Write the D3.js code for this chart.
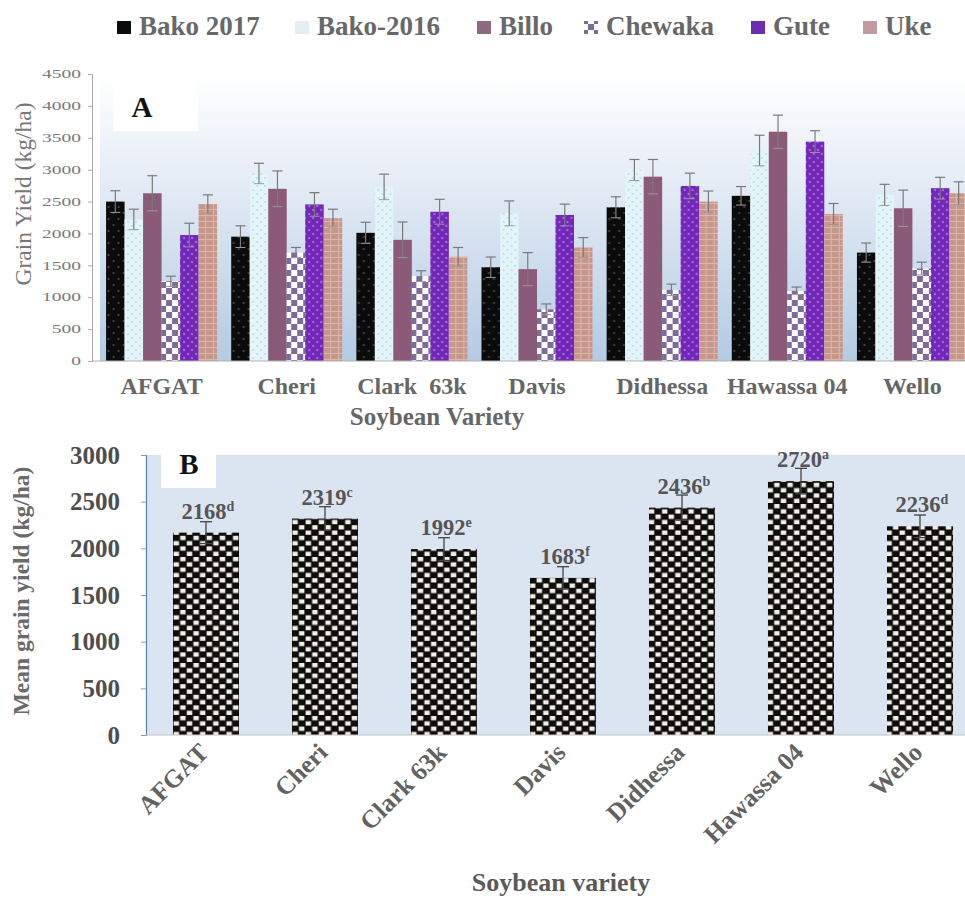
<!DOCTYPE html>
<html>
<head>
<meta charset="utf-8">
<script src="https://cdn.jsdelivr.net/npm/d3@7"></script>
<style>
  html, body { margin: 0; padding: 0; background: #ffffff; }
  svg { display: block; }
  text { font-family: "Liberation Serif", "Times New Roman", serif; }
</style>
</head>
<body>
<svg id="chart" width="965" height="903"></svg>
<script>
// ---- Panel A: grain yield per variety and location ----
const categories = ["AFGAT", "Cheri", "Clark  63k", "Davis", "Didhessa", "Hawassa 04", "Wello"];
const locations = ["Bako 2017", "Bako-2016", "Billo", "Chewaka", "Gute", "Uke"];

const bako2017 = [2500, 1950, 2010, 1470, 2410, 2590, 1700];
const bako2016 = [2220, 2940, 2730, 2315, 2995, 3300, 2605];
const billo    = [2630, 2700, 1900, 1440, 2890, 3595, 2395];
const chewaka  = [1250, 1700, 1330, 810, 1115, 1100, 1450];
const gute     = [1975, 2455, 2340, 2290, 2745, 3440, 2710];
const uke      = [2460, 2240, 1635, 1780, 2500, 2305, 2630];

const bako2017Err = [170, 170, 165, 160, 165, 145, 150];
const bako2016Err = [160, 160, 200, 195, 165, 240, 165];
const billoErr    = [275, 280, 280, 260, 270, 260, 285];
const chewakaErr  = [80, 80, 85, 85, 90, 60, 100];
const guteErr     = [185, 185, 195, 170, 200, 170, 170];
const ukeErr      = [145, 140, 145, 155, 165, 165, 180];

const yTicksA = [0, 500, 1000, 1500, 2000, 2500, 3000, 3500, 4000, 4500];

// ---- Panel B: mean grain yield per variety ----
const varieties = ["AFGAT", "Cheri", "Clark 63k", "Davis", "Didhessa", "Hawassa 04", "Wello"];
const meanYield = [2168, 2319, 1992, 1683, 2436, 2720, 2236];
const meanErr = [117, 127, 122, 120, 135, 137, 121];
const meanLetters = ["d", "c", "e", "f", "b", "a", "d"];
const yTicksB = [0, 500, 1000, 1500, 2000, 2500, 3000];

const seriesValues = [bako2017, bako2016, billo, chewaka, gute, uke];
const seriesErrors = [bako2017Err, bako2016Err, billoErr, chewakaErr, guteErr, ukeErr];

const svg = d3.select("#chart");
const defs = svg.append("defs");

// ---------- fill patterns ----------
function dotPattern(id, bg, dot, w, h, r) {
  const p = defs.append("pattern").attr("id", id).attr("patternUnits", "userSpaceOnUse")
    .attr("width", w).attr("height", h);
  p.append("rect").attr("width", w).attr("height", h).attr("fill", bg);
  p.append("circle").attr("cx", w * 0.25).attr("cy", h * 0.25).attr("r", r).attr("fill", dot);
  p.append("circle").attr("cx", w * 0.75).attr("cy", h * 0.75).attr("r", r).attr("fill", dot);
}
dotPattern("pBako17", "#0b0b0b", "#4a4a4a", 10, 12, 1.1);
dotPattern("pBako16", "#e4f5f9", "#b9dbe6", 8, 8, 1.1);
dotPattern("pGute", "#7327b8", "#a06ad8", 8, 8, 1.2);

(function () {
  const p = defs.append("pattern").attr("id", "pChewaka").attr("patternUnits", "userSpaceOnUse")
    .attr("width", 12).attr("height", 12);
  p.append("rect").attr("width", 12).attr("height", 12).attr("fill", "#ffffff");
  p.append("rect").attr("x", 0).attr("y", 0).attr("width", 6).attr("height", 6).attr("fill", "#7d6b9a");
  p.append("rect").attr("x", 6).attr("y", 6).attr("width", 6).attr("height", 6).attr("fill", "#7d6b9a");
})();

(function () {
  const p = defs.append("pattern").attr("id", "pUke").attr("patternUnits", "userSpaceOnUse")
    .attr("width", 8).attr("height", 6);
  p.append("rect").attr("width", 8).attr("height", 6).attr("fill", "#c8978c");
  p.append("rect").attr("x", 0).attr("y", 5).attr("width", 8).attr("height", 1).attr("fill", "#dcb6aa");
  p.append("rect").attr("x", 3).attr("y", 0).attr("width", 1).attr("height", 5).attr("fill", "#dcb6aa");
})();

(function () {
  const w = 13.2, h = 10.6;
  const p = defs.append("pattern").attr("id", "pChecker").attr("patternUnits", "userSpaceOnUse")
    .attr("width", w).attr("height", h).attr("x", 173);
  p.append("rect").attr("width", w).attr("height", h).attr("fill", "#0d0d0d");
  p.append("rect").attr("x", 0.6).attr("y", 0.5).attr("width", w / 2 - 1.2).attr("height", h / 2 - 1).attr("fill", "#f3efe4");
  p.append("rect").attr("x", w / 2 + 0.6).attr("y", h / 2 + 0.5).attr("width", w / 2 - 1.2).attr("height", h / 2 - 1).attr("fill", "#f3efe4");
})();

const seriesFill = ["url(#pBako17)", "url(#pBako16)", "#8b5a79", "url(#pChewaka)", "url(#pGute)", "url(#pUke)"];
const legendFill = ["#0b0b0b", "#e2eef2", "#8b6a82", "url(#pChewaka)", "#6a2db0", "#c49aa2"];

const grad = defs.append("linearGradient").attr("id", "gA")
  .attr("x1", 0).attr("y1", 0).attr("x2", 0).attr("y2", 1);
grad.append("stop").attr("offset", "0%").attr("stop-color", "#ffffff");
grad.append("stop").attr("offset", "35%").attr("stop-color", "#e6edf6");
grad.append("stop").attr("offset", "100%").attr("stop-color", "#b3cbe4");

// ---------- legend ----------
const legendX = [117, 295, 477, 584, 751, 863];
const legend = svg.append("g");
locations.forEach((name, i) => {
  legend.append("rect").attr("x", legendX[i]).attr("y", 21).attr("width", 14).attr("height", 13)
    .attr("fill", legendFill[i]);
  legend.append("text").attr("x", legendX[i] + 22).attr("y", 35)
    .attr("font-size", 27).attr("font-weight", "bold").attr("fill", "#686868")
    .text(name);
});

// ================= PANEL A =================
const yA = d3.scaleLinear().domain([0, 4500]).range([361, 74]);
const x0A = d3.scaleBand().domain(categories).range([99, 975]).paddingInner(0.113).paddingOuter(0.0565);
const x1A = d3.scaleBand().domain(locations).range([0, x0A.bandwidth()]);

const gA = svg.append("g");
gA.append("rect").attr("x", 100).attr("y", 75).attr("width", 865).attr("height", 286)
  .attr("fill", "url(#gA)");

const groupsA = gA.selectAll("g.grp").data(categories).join("g")
  .attr("transform", d => `translate(${x0A(d)},0)`);

groupsA.each(function (cat, ci) {
  const g = d3.select(this);
  locations.forEach((loc, si) => {
    const v = seriesValues[si][ci];
    const e = seriesErrors[si][ci];
    const x = x1A(loc);
    const w = x1A.bandwidth();
    g.append("rect").attr("x", x).attr("y", yA(v)).attr("width", w).attr("height", yA(0) - yA(v))
      .attr("fill", seriesFill[si]);
    const cx = x + w / 2;
    g.append("line").attr("x1", cx).attr("x2", cx).attr("y1", yA(v - e)).attr("y2", yA(v + e))
      .attr("stroke", "#7a7a7a").attr("stroke-width", 1.2);
    g.append("line").attr("x1", cx - 5).attr("x2", cx + 5).attr("y1", yA(v + e)).attr("y2", yA(v + e))
      .attr("stroke", "#7a7a7a").attr("stroke-width", 1.2);
    g.append("line").attr("x1", cx - 5).attr("x2", cx + 5).attr("y1", yA(v - e)).attr("y2", yA(v - e))
      .attr("stroke", "#9a9a9a").attr("stroke-width", 1);
  });
});

// axes A
const axisA = gA.append("g").attr("transform", "translate(92,0)")
  .call(d3.axisLeft(yA).tickValues(yTicksA).tickSize(4).tickPadding(7).tickFormat(d3.format("d")));
axisA.select(".domain").attr("stroke", "#a8a8a8");
axisA.selectAll(".tick line").attr("stroke", "#a8a8a8");
axisA.selectAll(".tick text")
  .attr("font-size", 19.5)
  .attr("fill", "#7a7a7a").attr("transform", "scale(1,0.6)");

gA.append("line").attr("x1", 92).attr("x2", 965).attr("y1", yA(0)).attr("y2", yA(0))
  .attr("stroke", "#b0b0b0").attr("stroke-width", 1);

gA.selectAll("text.xlab").data(categories).join("text")
  .attr("x", d => x0A(d) + x0A.bandwidth() / 2).attr("y", 394)
  .attr("text-anchor", "middle").attr("font-size", 24).attr("font-weight", "bold")
  .attr("fill", "#666666").style("white-space", "pre")
  .text(d => d);

gA.append("text").attr("x", 437).attr("y", 425).attr("text-anchor", "middle")
  .attr("font-size", 25).attr("font-weight", "bold").attr("fill", "#666666")
  .text("Soybean Variety");

gA.append("text").attr("transform", "translate(31,194) rotate(-90)").attr("text-anchor", "middle")
  .attr("font-size", 23.5).attr("fill", "#777777")
  .text("Grain Yield (kg/ha)");

gA.append("rect").attr("x", 113).attr("y", 80).attr("width", 85).attr("height", 51).attr("fill", "#ffffff");
gA.append("text").attr("x", 142).attr("y", 117).attr("text-anchor", "middle")
  .attr("font-size", 29).attr("font-weight", "bold").attr("fill", "#111111").text("A");

// ================= PANEL B =================
const yB = d3.scaleLinear().domain([0, 3000]).range([735, 455]);
const xB = d3.scaleBand().domain(varieties).range([146.5, 979.5]).paddingInner(0.445).paddingOuter(0.2225);

const gB = svg.append("g");
gB.append("rect").attr("x", 147).attr("y", 455).attr("width", 818).attr("height", 280)
  .attr("fill", "#dbe4f1");

gB.selectAll("rect.bar").data(varieties).join("rect").attr("class", "bar")
  .attr("x", d => xB(d)).attr("width", xB.bandwidth())
  .attr("y", (d, i) => yB(meanYield[i])).attr("height", (d, i) => yB(0) - yB(meanYield[i]))
  .attr("fill", "url(#pChecker)");

varieties.forEach((v, i) => {
  const cx = xB(v) + xB.bandwidth() / 2;
  const top = meanYield[i] + meanErr[i], bot = meanYield[i] - meanErr[i];
  gB.append("line").attr("x1", cx).attr("x2", cx).attr("y1", yB(bot)).attr("y2", yB(top))
    .attr("stroke", "#444444").attr("stroke-width", 1.3);
  gB.append("line").attr("x1", cx - 6).attr("x2", cx + 6).attr("y1", yB(top)).attr("y2", yB(top))
    .attr("stroke", "#444444").attr("stroke-width", 1.3);
  gB.append("line").attr("x1", cx - 6).attr("x2", cx + 6).attr("y1", yB(bot)).attr("y2", yB(bot))
    .attr("stroke", "#444444").attr("stroke-width", 1.3);
  const t = gB.append("text").attr("x", cx + 2).attr("y", yB(meanYield[i]) - 14)
    .attr("text-anchor", "middle").attr("font-size", 22.5).attr("font-weight", "bold").attr("fill", "#555555");
  t.append("tspan").text(meanYield[i]);
  t.append("tspan").attr("dy", -8).attr("font-size", 14).text(meanLetters[i]);
});

const axisB = gB.append("g").attr("transform", "translate(146,0)")
  .call(d3.axisLeft(yB).tickValues(yTicksB).tickSize(5).tickPadding(21).tickFormat(d3.format("d")));
axisB.select(".domain").attr("stroke", "#5b7dbf").attr("stroke-width", 1.2);
axisB.selectAll(".tick line").attr("stroke", "#8a9abf");
axisB.selectAll(".tick text")
  .attr("font-size", 25).attr("font-weight", "bold")
  .attr("fill", "#4e4e4e");

gB.append("line").attr("x1", 146).attr("x2", 965).attr("y1", yB(0)).attr("y2", yB(0))
  .attr("stroke", "#c4c4c4").attr("stroke-width", 1);

gB.selectAll("text.xlab").data(varieties).join("text")
  .attr("transform", d => `translate(${xB(d) + xB.bandwidth() / 2 + 4},${754}) rotate(-45)`)
  .attr("text-anchor", "end").attr("font-size", 25.5).attr("font-weight", "bold")
  .attr("fill", "#626262")
  .text(d => d);

gB.append("text").attr("x", 561).attr("y", 891).attr("text-anchor", "middle")
  .attr("font-size", 26).attr("font-weight", "bold").attr("fill", "#5a5a5a")
  .text("Soybean variety");

gB.append("text").attr("transform", "translate(29,591) rotate(-90)").attr("text-anchor", "middle")
  .attr("font-size", 23.5).attr("font-weight", "bold").attr("fill", "#6a6a6a")
  .text("Mean grain yield (kg/ha)");

gB.append("rect").attr("x", 161).attr("y", 447).attr("width", 55).attr("height", 41).attr("fill", "#ffffff");
gB.append("text").attr("x", 189).attr("y", 474).attr("text-anchor", "middle")
  .attr("font-size", 29).attr("font-weight", "bold").attr("fill", "#111111").text("B");
</script>
</body>
</html>
